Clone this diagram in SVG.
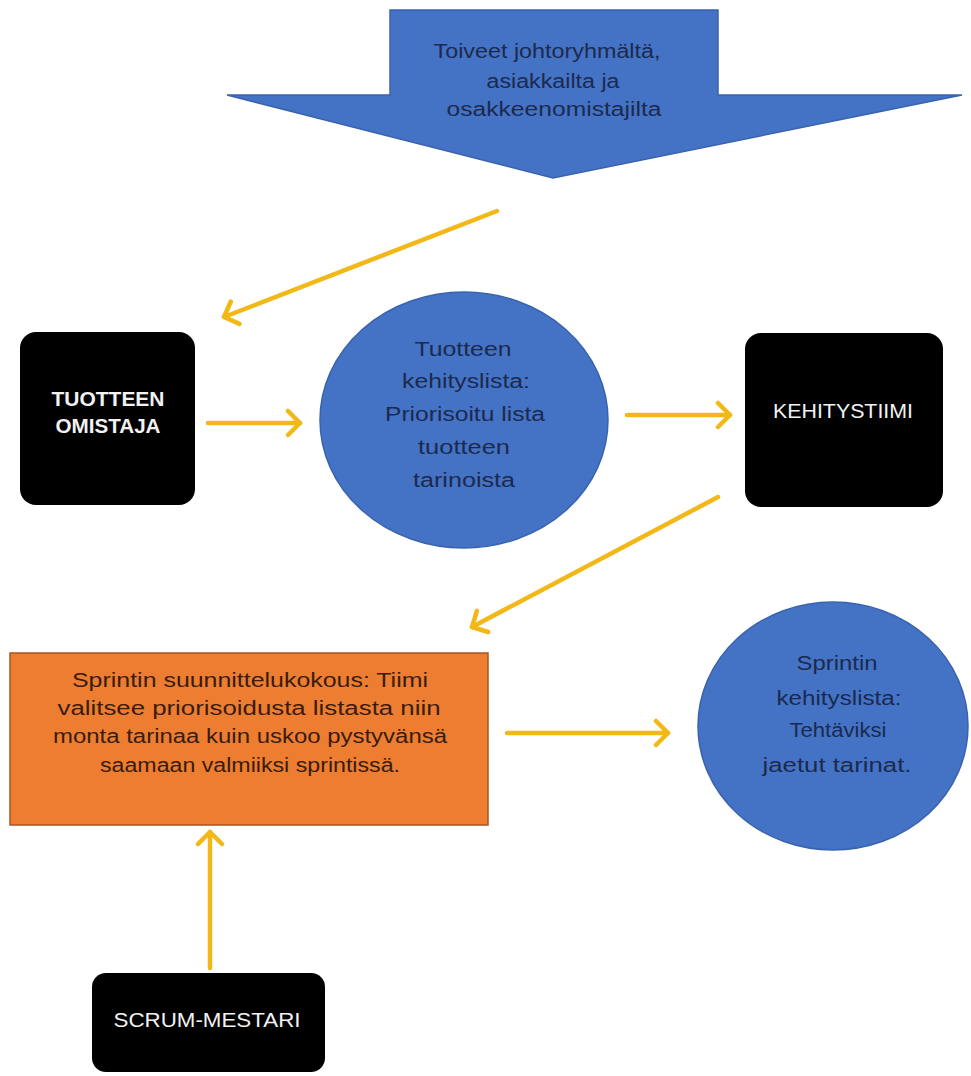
<svg xmlns="http://www.w3.org/2000/svg" width="971" height="1076" viewBox="0 0 971 1076">
<defs>
<style>
.blue{fill:#4472C4;stroke:#3A63AE;stroke-width:1.5}
.dark{fill:#000}
.orange{fill:#ED7D31;stroke:#A85520;stroke-width:1.5}
.conn{stroke:#F2B817;stroke-width:4.5;fill:none;stroke-linecap:round}
.tb{font-family:"Liberation Sans",Arial,sans-serif;font-size:20px;fill:#1B2A4E;text-anchor:middle}
.to{font-family:"Liberation Sans",Arial,sans-serif;font-size:20px;fill:#3A1C0C;text-anchor:middle}
.tw{font-family:"Liberation Sans",Arial,sans-serif;font-size:20px;fill:#F2F2F2;text-anchor:middle}
</style>
<marker id="ah" markerUnits="userSpaceOnUse" markerWidth="30" markerHeight="30" refX="16" refY="15" orient="auto" viewBox="0 0 30 30">
<path d="M4,3 L16,15 L4,27" fill="none" stroke="#F2B817" stroke-width="4.5" stroke-linecap="round" stroke-linejoin="round"/>
</marker>
</defs>
<rect width="971" height="1076" fill="#fff"/>
<g id="top-arrow">
<polygon class="blue" points="390,10 718,10 718,95 962,95 553,178 227,95 390,95"/>
<text class="tb" x="547" y="58" textLength="227" lengthAdjust="spacingAndGlyphs">Toiveet johtoryhmältä,</text>
<text class="tb" x="553" y="88" textLength="133" lengthAdjust="spacingAndGlyphs">asiakkailta ja</text>
<text class="tb" x="554" y="116" textLength="215" lengthAdjust="spacingAndGlyphs">osakkeenomistajilta</text>
</g>
<g id="tuotteen-omistaja">
<rect class="dark" x="20" y="332" width="175" height="173" rx="16"/>
<text class="tw" x="108" y="406" font-size="24" font-weight="bold" textLength="113" lengthAdjust="spacingAndGlyphs">TUOTTEEN</text>
<text class="tw" x="108" y="433" font-size="24" font-weight="bold" textLength="105" lengthAdjust="spacingAndGlyphs">OMISTAJA</text>
</g>
<g id="tuotteen-kehityslista">
<ellipse class="blue" cx="464" cy="420" rx="144" ry="128"/>
<text class="tb" x="463" y="356" textLength="97" lengthAdjust="spacingAndGlyphs">Tuotteen</text>
<text class="tb" x="466" y="388" textLength="128" lengthAdjust="spacingAndGlyphs">kehityslista:</text>
<text class="tb" x="465" y="421" textLength="160" lengthAdjust="spacingAndGlyphs">Priorisoitu lista</text>
<text class="tb" x="464" y="454" textLength="92" lengthAdjust="spacingAndGlyphs">tuotteen</text>
<text class="tb" x="464" y="487" textLength="102" lengthAdjust="spacingAndGlyphs">tarinoista</text>
</g>
<g id="kehitystiimi">
<rect class="dark" x="745" y="333" width="198" height="174" rx="16"/>
<text class="tw" x="843" y="418" textLength="140" lengthAdjust="spacingAndGlyphs">KEHITYSTIIMI</text>
</g>
<g id="sprintin-suunnittelukokous">
<rect class="orange" x="10" y="653" width="478" height="172"/>
<text class="to" x="250" y="687" textLength="356" lengthAdjust="spacingAndGlyphs">Sprintin suunnittelukokous: Tiimi</text>
<text class="to" x="249" y="715" textLength="383" lengthAdjust="spacingAndGlyphs">valitsee priorisoidusta listasta niin</text>
<text class="to" x="250" y="743" textLength="394" lengthAdjust="spacingAndGlyphs">monta tarinaa kuin uskoo pystyvänsä</text>
<text class="to" x="250" y="772" textLength="300" lengthAdjust="spacingAndGlyphs">saamaan valmiiksi sprintissä.</text>
</g>
<g id="sprintin-kehityslista">
<ellipse class="blue" cx="833" cy="726" rx="135" ry="124"/>
<text class="tb" x="837" y="670" textLength="81" lengthAdjust="spacingAndGlyphs">Sprintin</text>
<text class="tb" x="839" y="705" textLength="125" lengthAdjust="spacingAndGlyphs">kehityslista:</text>
<text class="tb" x="838" y="737" textLength="97" lengthAdjust="spacingAndGlyphs">Tehtäviksi</text>
<text class="tb" x="837" y="772" textLength="149" lengthAdjust="spacingAndGlyphs">jaetut tarinat.</text>
</g>
<g id="scrum-mestari">
<rect class="dark" x="92" y="973" width="233" height="99" rx="14"/>
<text class="tw" x="207" y="1027" textLength="187" lengthAdjust="spacingAndGlyphs">SCRUM-MESTARI</text>
</g>
<g id="connectors">
<line class="conn" x1="497" y1="211" x2="224" y2="317" marker-end="url(#ah)"/>
<line class="conn" x1="208" y1="423" x2="300" y2="423" marker-end="url(#ah)"/>
<line class="conn" x1="627" y1="415" x2="730" y2="415" marker-end="url(#ah)"/>
<line class="conn" x1="718" y1="497" x2="472" y2="627" marker-end="url(#ah)"/>
<line class="conn" x1="507" y1="733" x2="668" y2="733" marker-end="url(#ah)"/>
<line class="conn" x1="210" y1="968" x2="210" y2="832" marker-end="url(#ah)"/>
</g>
</svg>
